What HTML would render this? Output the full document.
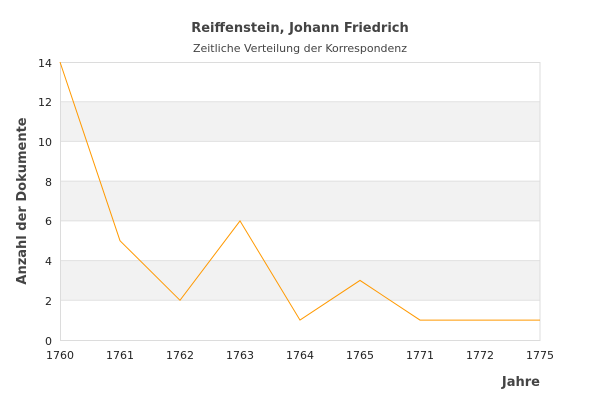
<!DOCTYPE html>
<html><head><meta charset="utf-8"><style>body{margin:0;background:#fff}svg{display:block}</style></head>
<body>
<svg width="600" height="400" xmlns="http://www.w3.org/2000/svg" font-family="DejaVu Sans, sans-serif">
<rect width="600" height="400" fill="#fff"/>
<rect x="60" y="101.7" width="480" height="39.7" fill="#f2f2f2"/>
<rect x="60" y="181.1" width="480" height="39.7" fill="#f2f2f2"/>
<rect x="60" y="260.6" width="480" height="39.7" fill="#f2f2f2"/>
<g stroke="#e0e0e0" stroke-width="1">
<line x1="60" y1="101.7" x2="540" y2="101.7"/>
<line x1="60" y1="141.4" x2="540" y2="141.4"/>
<line x1="60" y1="181.1" x2="540" y2="181.1"/>
<line x1="60" y1="220.9" x2="540" y2="220.9"/>
<line x1="60" y1="260.6" x2="540" y2="260.6"/>
<line x1="60" y1="300.3" x2="540" y2="300.3"/>
</g>
<rect x="60.5" y="62.5" width="479.5" height="278" fill="none" stroke="#dcdcdc"/>
<polyline fill="none" stroke="#ff9900" stroke-width="1" points="60,62 120,240.7 180,300.3 240,220.9 300,320.1 360,280.4 420,320.1 480,320.1 540,320.1"/>
<text x="300" y="32" text-anchor="middle" font-size="13" font-weight="bold" fill="#444">Reiffenstein, Johann Friedrich</text>
<text x="300" y="52" text-anchor="middle" font-size="11" fill="#444">Zeitliche Verteilung der Korrespondenz</text>
<g font-size="11" fill="#222" text-anchor="end">
<text x="52" y="67">14</text><text x="52" y="106">12</text><text x="52" y="146">10</text>
<text x="52" y="186">8</text><text x="52" y="225">6</text><text x="52" y="265">4</text>
<text x="52" y="305">2</text><text x="52" y="345">0</text>
</g>
<g font-size="11" fill="#222" text-anchor="middle">
<text x="60" y="359">1760</text><text x="120" y="359">1761</text><text x="180" y="359">1762</text>
<text x="240" y="359">1763</text><text x="300" y="359">1764</text><text x="360" y="359">1765</text>
<text x="420" y="359">1771</text><text x="480" y="359">1772</text><text x="540" y="359">1775</text>
</g>
<text x="540" y="386" text-anchor="end" font-size="13" font-weight="bold" fill="#444">Jahre</text>
<text transform="translate(26,201) rotate(-90)" text-anchor="middle" font-size="13" font-weight="bold" fill="#444">Anzahl der Dokumente</text>
</svg>
</body></html>
